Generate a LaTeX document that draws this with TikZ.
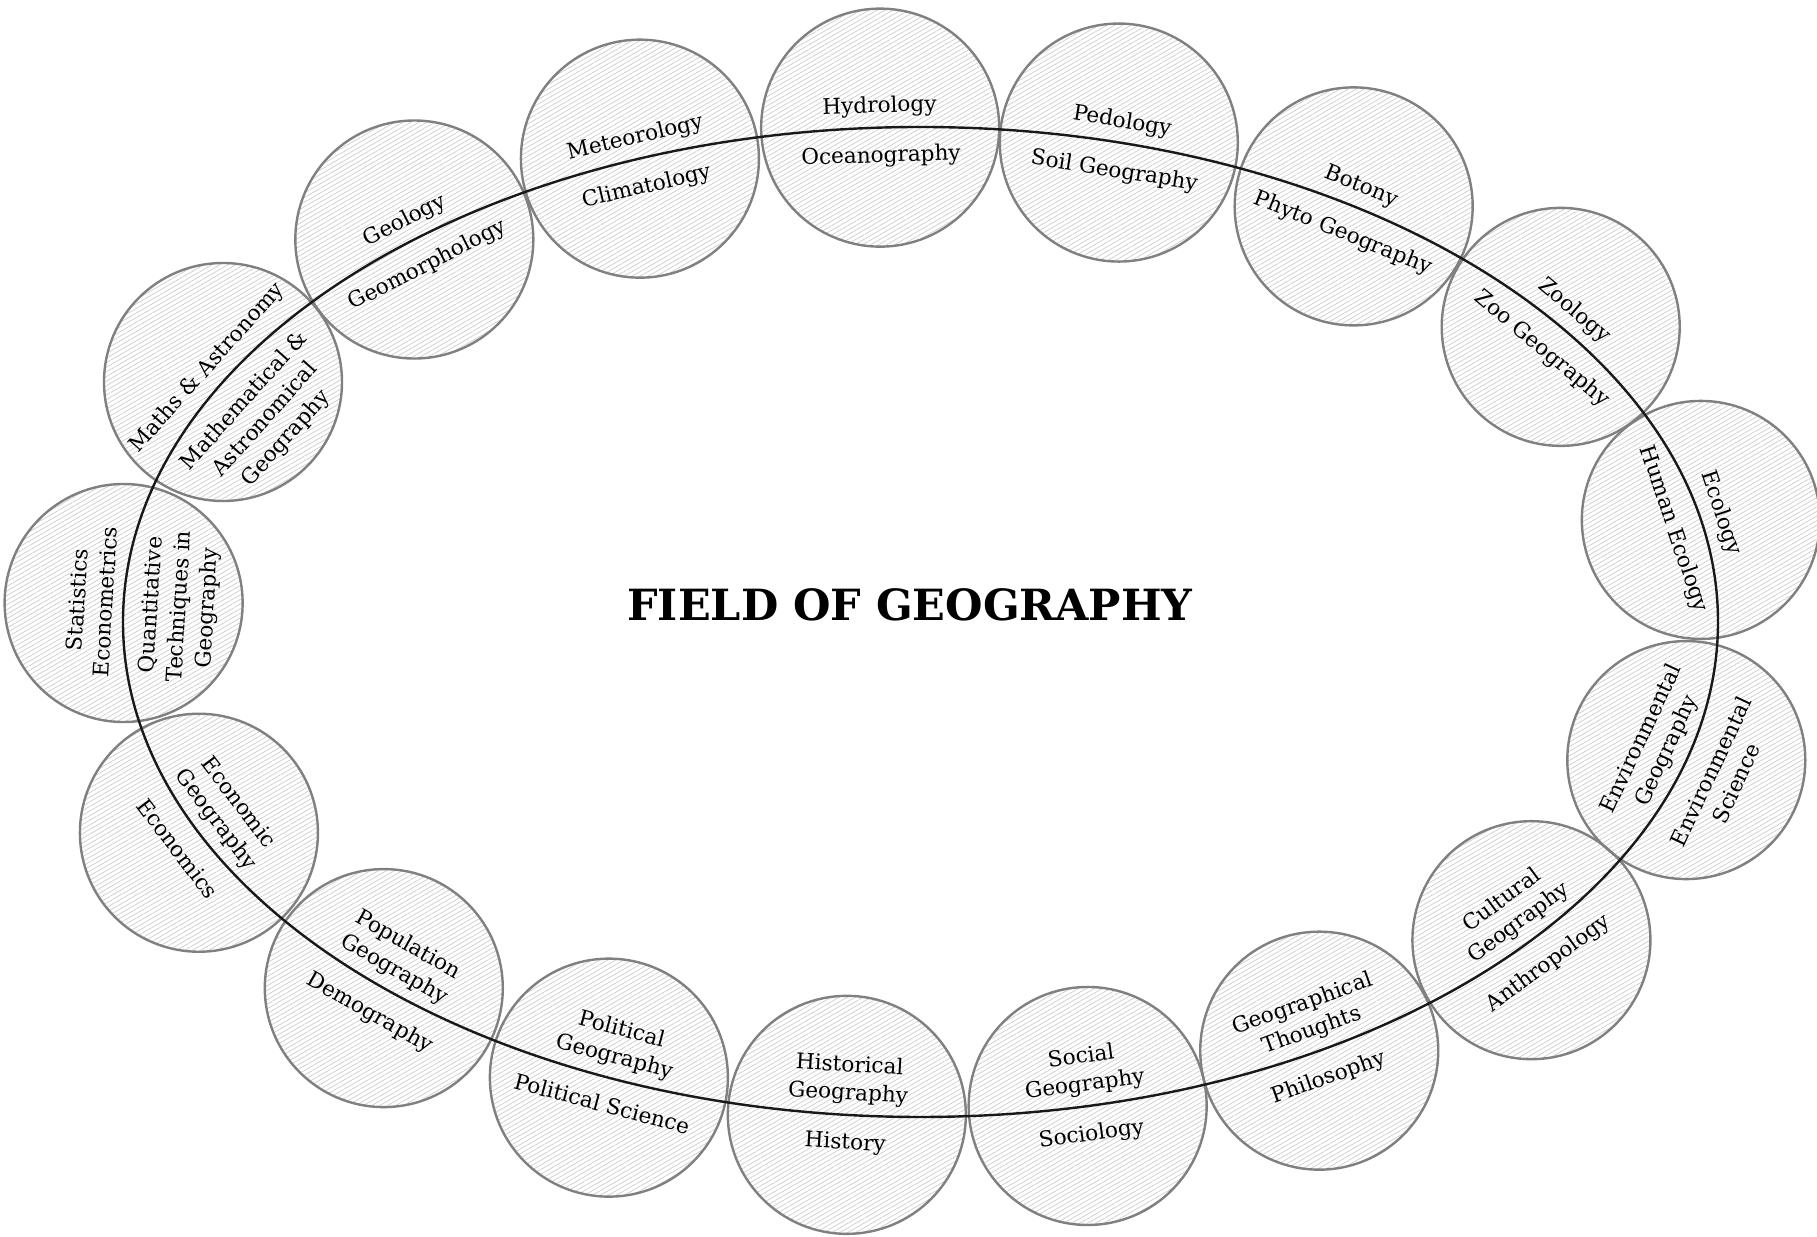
\documentclass[tikz,border=0pt]{standalone}
\usepackage{fontspec}
\setmainfont{DejaVu Serif}
\usetikzlibrary{backgrounds}
\usetikzlibrary{patterns.meta}
\usetikzlibrary{calc}
\newcommand{\lblfont}{\fontsize{10.8}{14}\selectfont}
\newcommand{\ellA}{797.5}
\newcommand{\ellB}{495}
\newcommand{\ellX}{920.5}
\newcommand{\ellY}{615}
\tikzstyle{geomap}=[x=0.5pt, y=0.5pt]
\tikzstyle{field}=[circle, draw=black!50, line width=1.2pt, minimum size=119pt, inner sep=0pt]
\tikzstyle{hatch}=[pattern={Lines[angle=30,distance=2pt,line width=0.35pt]}, pattern color=black!20]
\tikzstyle{upper}=[anchor=south, align=center, inner sep=0pt, font=\lblfont]
\tikzstyle{lower}=[anchor=north, align=center, inner sep=0pt, font=\lblfont]
\tikzstyle{title}=[inner sep=0pt, font=\fontsize{21.5}{26}\selectfont\bfseries]
\tikzstyle{ring}=[line width=1.2pt, draw=black!90]

\begin{document}
\begin{tikzpicture}[geomap]
	\useasboundingbox (0,0) rectangle (1817,1237);
	%%
	\foreach \t/\up/\lo/\nm in {
		92.9/Hydrology/Oceanography/hyd,
		75.6/Pedology/{Soil Geography}/ped,
		57.1/Botony/{Phyto Geography}/bot,
		36.6/Zoology/{Zoo Geography}/zoo,
		11.9/Ecology/{Human Ecology}/eco,
		-16.2/{Environmental\\Geography}/{Environmental\\Science}/env,
		-40/{Cultural\\Geography}/Anthropology/cul,
		-60/{Geographical\\Thoughts}/Philosophy/phi,
		-77.9/{Social\\Geography}/Sociology/soc,
		-95.3/{Historical\\Geography}/History/his,
		-113/{Political\\Geography}/{Political Science}/pol,
		-132.3/{Population\\Geography}/Demography/pop,
		-154.8/{Economic\\Geography}/Economics/ecn,
		177.8/{Statistics\\Econometrics}/{Quantitative\\Techniques in\\Geography}/sta,
		151/{Maths \& Astronomy}/{Mathematical \&\\Astronomical\\Geography}/mat,
		129.4/Geology/Geomorphology/geo,
		110.6/Meteorology/Climatology/met}
	{
		\pgfmathsetmacro\rot{atan(-\ellB*cos(\t)/(\ellA*sin(\t)))}
		\coordinate (p\nm) at ({\ellX+\ellA*cos(\t)},{\ellY+\ellB*sin(\t)});
		\begin{scope}[on background layer]
			\fill[hatch] (p\nm) circle (119);
		\end{scope}
		\node[field] (f\nm) at (p\nm) {};
		\node[upper, rotate=\rot] (u\nm) at ($(p\nm)+(\rot+90:10)$) {\up};
		\node[lower, rotate=\rot] (l\nm) at ($(p\nm)+(\rot-90:18)$) {\lo};
	}
	%%%%%%
	\draw[ring] (\ellX,\ellY) ellipse [x radius=\ellA, y radius=\ellB];
	%%%%%%
	\node[title] (title) at (910,632) {FIELD OF GEOGRAPHY};
\end{tikzpicture}
\end{document}
